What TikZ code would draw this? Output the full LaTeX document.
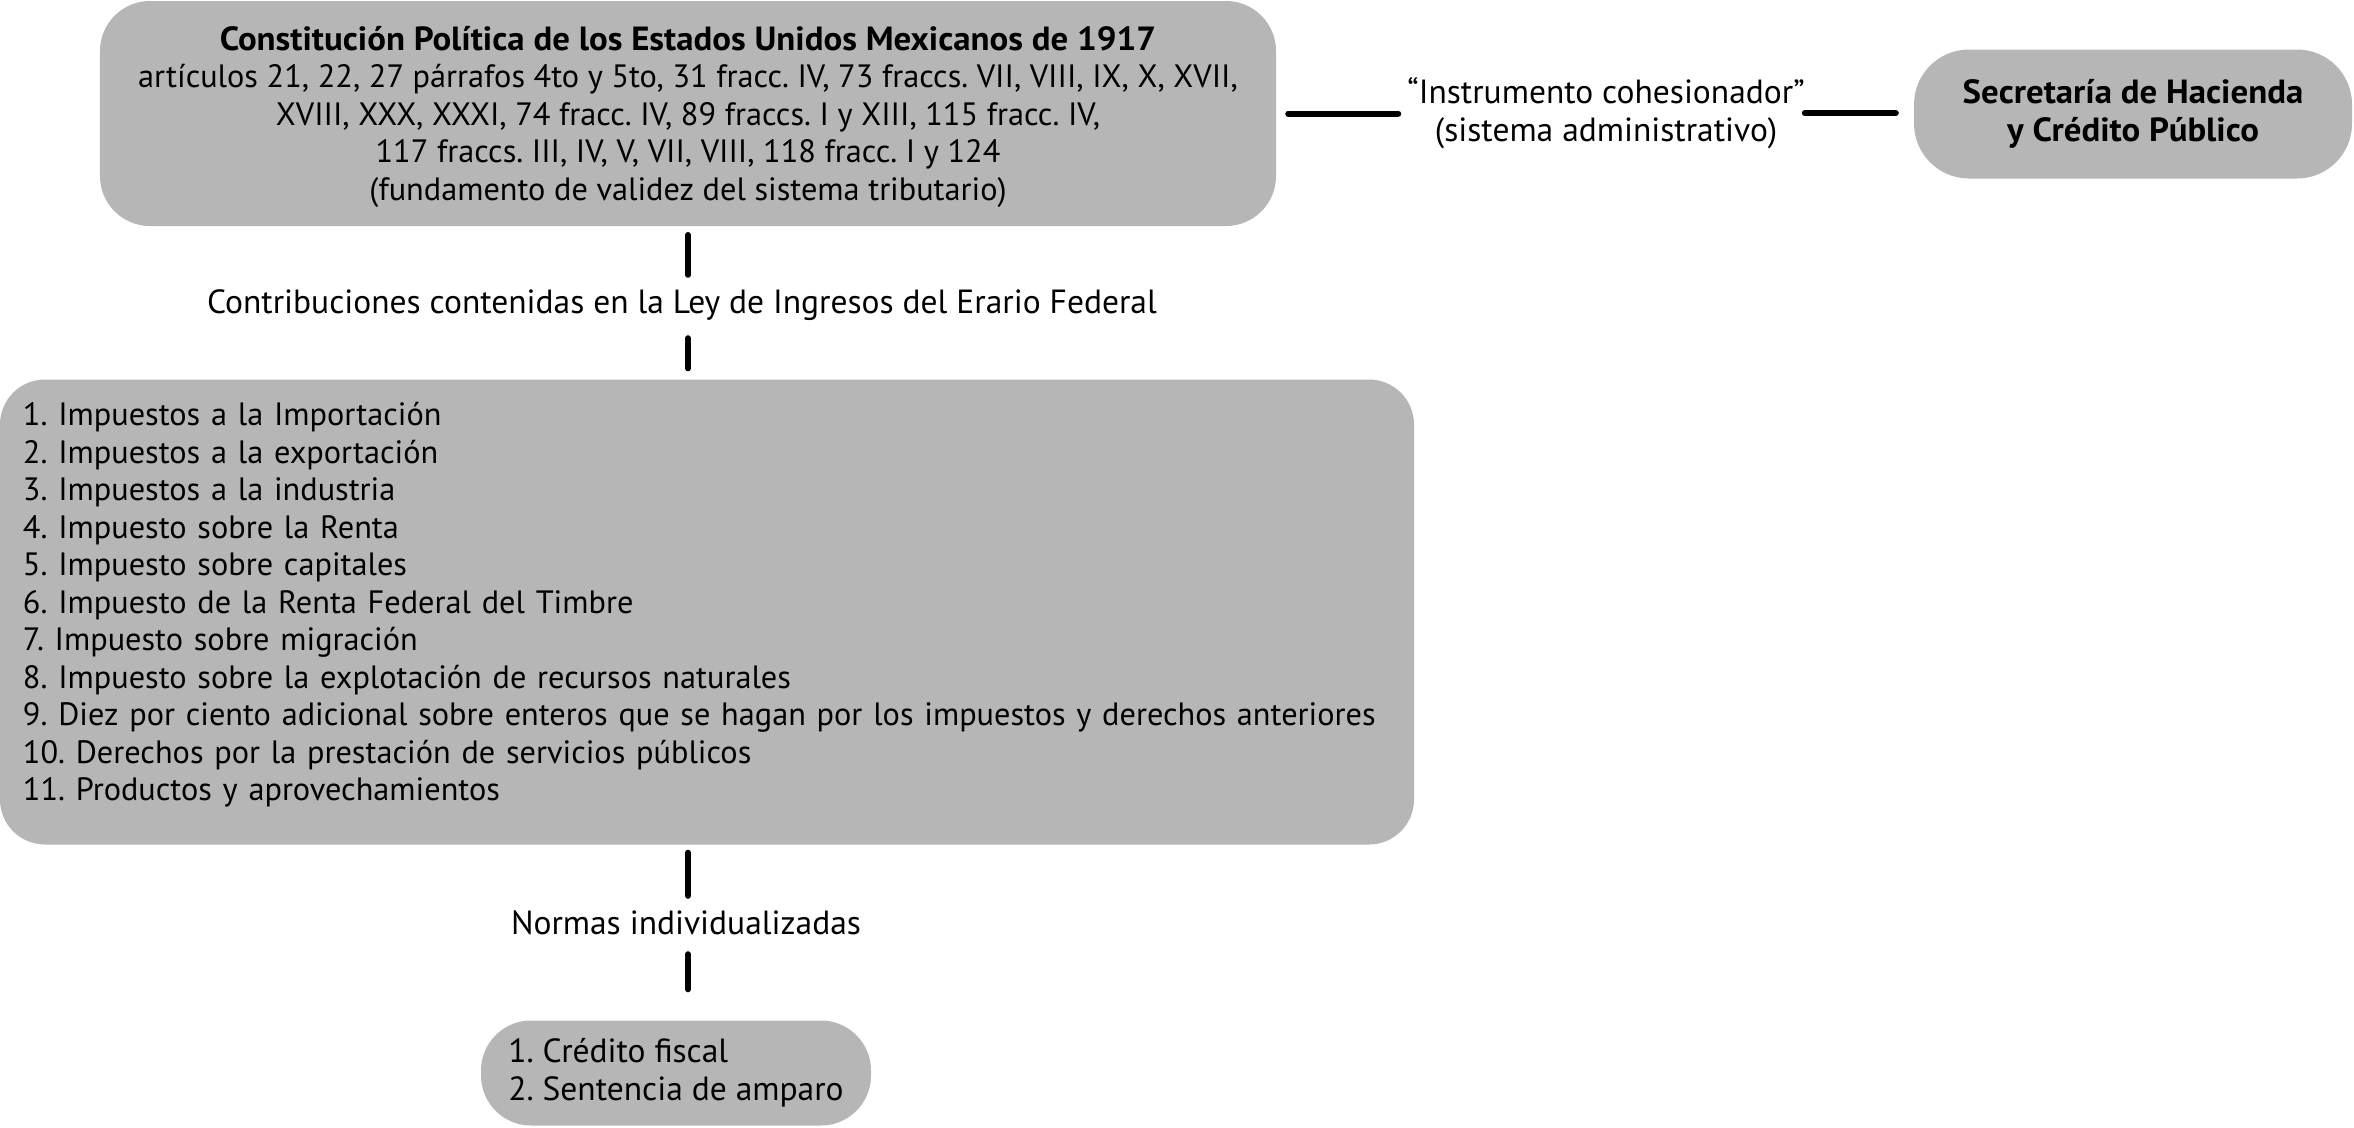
\documentclass[tikz,border=0pt]{standalone}
\usepackage{fontspec}
\setmainfont{PT Sans}
\newfontfamily\widebold[FakeStretch=1.04]{PT Sans Bold}
\definecolor{boxgray}{RGB}{182,182,183}
\newcommand{\fsz}{\fontsize{33.5bp}{37.5bp}\selectfont\frenchspacing}
\newcommand{\fszs}{\fontsize{32.3bp}{37.5bp}\selectfont\frenchspacing}
\begin{document}
\begin{tikzpicture}[x=1bp,y=-1bp,
  box/.style={fill=boxgray, draw=none, rounded corners=45bp, inner sep=0pt},
  conn/.style={line width=6bp, line cap=round, draw=black},
  txt/.style={font=\fsz, inner sep=0pt, align=center}]
\useasboundingbox (0,0) rectangle (2354,1127);

\node[box, txt, font=\fszs, align=flush center, rounded corners=50bp, text width=1176bp, minimum width=1176bp, minimum height=225bp] (top) at (688,113.5)
 {{\fsz\widebold Constitución Política de los Estados Unidos Mexicanos de 1917}\\
  artículos 21, 22, 27 párrafos 4to y 5to, 31 fracc. IV, 73 fraccs. VII, VIII, IX, X, XVII,\\
  XVIII, XXX, XXXI, 74 fracc. IV, 89 fraccs. I y XIII, 115 fracc. IV,\\
  117 fraccs. III, IV, V, VII, VIII, 118 fracc. I y 124\\
  (fundamento de validez del sistema tributario)\par\kern-6bp};

\node[txt] (mid) at (1606,113)
 {“Instrumento cohesionador”\\(sistema administrativo)};

\node[box, txt, font=\fsz\widebold, rounded corners=55bp, minimum width=438bp, minimum height=129bp] (shcp) at (2133,114)
 {Secretaría de Hacienda\\y Crédito Público};

\node[txt, minimum height=60bp] (lab1) at (682,305)
 {Contribuciones contenidas en la Ley de Ingresos del Erario Federal};

\node[box, txt, font=\fszs, align=left, text width=1368bp, minimum width=1414bp, minimum height=465bp] (list) at (707,612)
 {1. Impuestos a la Importación\\
  2. Impuestos a la exportación\\
  3. Impuestos a la industria\\
  4. Impuesto sobre la Renta\\
  5. Impuesto sobre capitales\\
  6. Impuesto de la Renta Federal del Timbre\\
  7. Impuesto sobre migración\\
  8. Impuesto sobre la explotación de recursos naturales\\
  9. Diez por ciento adicional sobre enteros que se hagan por los impuestos y derechos anteriores\\
  10. Derechos por la prestación de servicios públicos\\
  11. Productos y aprovechamientos\par\kern14bp};

\node[txt, minimum height=54bp] (lab2) at (686,923) {Normas individualizadas};

\node[box, txt, align=left, rounded corners=50bp, minimum width=390bp, minimum height=105bp] (res) at (676,1073)
 {1. Crédito fiscal\\2. Sentencia de amparo};

% connectors
\draw[conn, shorten <=12bp, shorten >=9bp] (top.east) -- (top.east -| mid.west);
\draw[conn, shorten >=18bp] (mid.east) -- (mid.east -| shcp.west);
\draw[conn, shorten <=10bp] (688,225 -| top.south) -- (688,225 |- lab1.north);
\draw[conn, shorten <=3bp, shorten >=11bp] (688,225 |- lab1.south) -- (688,225 |- list.north);
\draw[conn, shorten <=8bp] (688,225 |- list.south) -- (688,225 |- lab2.north);
\draw[conn, shorten <=4bp, shorten >=31bp] (688,225 |- lab2.south) -- (688,225 |- res.north);
\end{tikzpicture}
\end{document}
